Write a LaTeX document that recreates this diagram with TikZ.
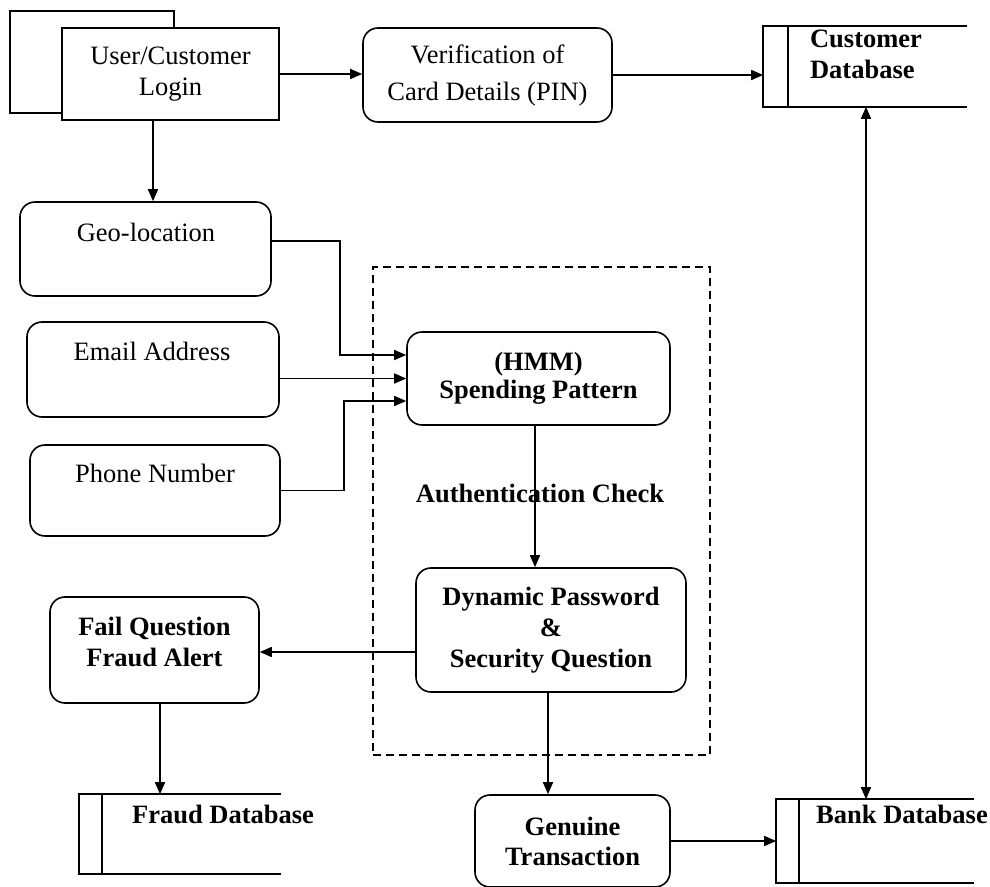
\documentclass[tikz,border=0pt]{standalone}
\usepackage{fontspec}
\setmainfont{Liberation Serif}
\usetikzlibrary{arrows.meta,calc}
\begin{document}
\begin{tikzpicture}[x=0.5pt,y=-0.5pt,
  font=\fontsize{13.25}{15.5}\selectfont,
  line width=0.8pt,
  box/.style={draw,rounded corners=7.5pt,inner sep=0pt,align=center},
  sqbox/.style={draw,fill=white,inner sep=0pt,align=center},
  dbnode/.style={inner sep=0pt},
  lbl/.style={inner sep=0pt,align=center},
  blbl/.style={inner sep=0pt,align=center,font=\fontsize{13.25}{15.5}\selectfont\bfseries},
  arr/.style={-{Triangle[length=6pt,width=5pt]}},
  darr/.style={{Triangle[length=6pt,width=5pt]}-{Triangle[length=6pt,width=5pt]}},
  grp/.style={draw,dashed,dash pattern=on 4pt off 2.5pt,line width=0.6pt,inner sep=0pt}
]
\useasboundingbox (0,0) rectangle (990,887);

% dashed group
\node[grp,minimum width=168.5pt,minimum height=244pt] (group) at (541.5,511) {};

% login (double rectangle)
\draw (10,11) rectangle (174,113);
\node[sqbox,minimum width=108.5pt,minimum height=46pt] (login) at (170.5,74) {User/Customer\\Login};

\node[box,minimum width=124.5pt,minimum height=47pt] (verif) at (487.5,75) {Verification of\\[3pt]Card Details (PIN)};

% databases
\node[dbnode,minimum width=101pt,minimum height=39.5pt] (cdb) at (865,66.5) {};
\draw (cdb.north east) -- (cdb.north west) -- (cdb.south west) -- (cdb.south east);
\draw ([xshift=12.5pt]cdb.north west) -- ([xshift=12.5pt]cdb.south west);
\node[blbl,align=left] (cdbt) at (866,54) {Customer\\Database};

\node[dbnode,minimum width=100pt,minimum height=39pt] (fdb) at (180,834) {};
\draw (fdb.north east) -- (fdb.north west) -- (fdb.south west) -- (fdb.south east);
\draw ([xshift=11.5pt]fdb.north west) -- ([xshift=11.5pt]fdb.south west);
\node[blbl] (fdbt) at (223,814) {Fraud Database};

\node[dbnode,minimum width=98pt,minimum height=41pt] (bdb) at (875,841) {};
\draw (bdb.north east) -- (bdb.north west) -- (bdb.south west) -- (bdb.south east);
\draw ([xshift=11.5pt]bdb.north west) -- ([xshift=11.5pt]bdb.south west);
\node[blbl] (bdbt) at (902,814) {Bank Database};

% input boxes
\node[box,minimum width=125.5pt,minimum height=47pt] (geo) at (145.5,249) {};
\node[lbl] (geot) at (146,232) {Geo-location};
\node[box,minimum width=126pt,minimum height=47.5pt] (email) at (153,369.5) {};
\node[lbl] (emailt) at (152,351) {Email Address};
\node[box,minimum width=125pt,minimum height=45.5pt] (phone) at (155,490.5) {};
\node[lbl] (phonet) at (155,473) {Phone Number};

% process boxes
\node[box,minimum width=131.5pt,minimum height=46.5pt,font=\fontsize{13.25}{14}\selectfont\bfseries] (hmm) at (538.5,378.5) {(HMM)\\Spending Pattern};
\node[box,minimum width=135pt,minimum height=62pt,font=\fontsize{13.25}{15.5}\selectfont\bfseries] (dyn) at (551,630) {Dynamic Password\\\&\\Security Question};
\node[box,minimum width=104.5pt,minimum height=53pt] (fail) at (154.5,650) {};
\node[blbl] (failt) at (154.5,642) {Fail Question\\Fraud Alert};
\node[box,minimum width=97.5pt,minimum height=46pt,font=\fontsize{13.25}{15}\selectfont\bfseries] (gen) at (572.5,841) {Genuine\\Transaction};

\node[blbl] (auth) at (540,493) {Authentication Check};

% connectors
\draw[arr] (login.east) -- (login.east -| verif.west);
\draw[arr] (verif.east) -- (verif.east -| cdb.west);
\draw[arr] ([xshift=-8.75pt]login.south) -- ([xshift=-8.75pt]login.south |- geo.north);
\draw[arr] ([yshift=4pt]geo.east) -- ++(68,0) |- ([yshift=11.75pt]hmm.west);
\draw[arr] (hmm.west -| email.east) -- (hmm.west);
\draw[arr] (phone.east) -- ++(63,0) |- ([yshift=-11.25pt]hmm.west);
\draw[arr] ([xshift=-1.75pt]hmm.south) -- ([xshift=-1.75pt]hmm.south |- dyn.north);
\draw[arr] ([yshift=-11pt]dyn.west) -- ([yshift=-11pt]dyn.west -| fail.east);
\draw[arr] ([xshift=2.75pt]fail.south) -- ([xshift=2.75pt]fail.south |- fdb.north);
\draw[arr] ([xshift=-1.5pt]dyn.south) -- ([xshift=-1.5pt]dyn.south |- gen.north);
\draw[arr] (gen.east) -- (gen.east -| bdb.west);
\draw[darr] ([xshift=0.5pt]cdb.south) -- ([xshift=0.5pt]cdb.south |- bdb.north);
\end{tikzpicture}
\end{document}
